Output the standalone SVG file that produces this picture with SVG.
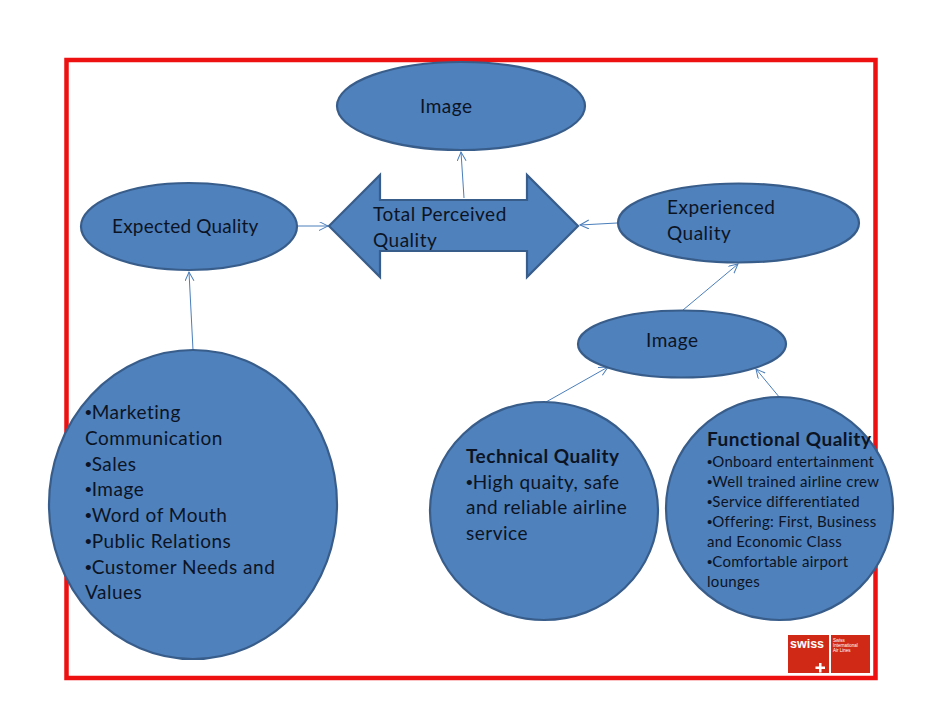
<svg xmlns="http://www.w3.org/2000/svg" width="942" height="728" viewBox="0 0 942 728">
<style>
.s{fill:#4f81bd;stroke:#385d8a;stroke-width:2.2}
.t{font-family:Lato,"Liberation Sans",sans-serif;font-size:19px;fill:#0c1424;letter-spacing:.5px}
.n{letter-spacing:.2px}
.f{font-size:15px;letter-spacing:.3px}
.b{font-weight:700;letter-spacing:.5px}
.u{font-family:"Liberation Sans",sans-serif;letter-spacing:0}
.c{fill:none;stroke:#4a7ebb;stroke-width:1}
.l{font-family:"Liberation Sans",sans-serif;fill:#fff}
</style>
<defs><marker id="a" markerWidth="12" markerHeight="12" refX="9" refY="4.500" orient="auto" markerUnits="userSpaceOnUse"><path d="M0 0L9 4.500L0 9" fill="none" stroke="#4a7ebb" stroke-width="1"/></marker></defs>
<rect width="942" height="728" fill="#fff"/>
<rect id="frame" x="66.500" y="60" width="809" height="618" fill="none" stroke="#ee1111" stroke-width="4.500"/>
<g id="connectors">
<path class="c" marker-end="url(#a)" d="M464 198L461 152"/>
<path class="c" marker-end="url(#a)" d="M298 226H328"/>
<path class="c" marker-end="url(#a)" d="M617 223L580 225"/>
<path class="c" marker-end="url(#a)" d="M193 350L189 272"/>
<path class="c" marker-end="url(#a)" d="M683 310L738 264"/>
<path class="c" marker-end="url(#a)" d="M546 402L608 367"/>
<path class="c" marker-end="url(#a)" d="M780 398L756 369"/>
</g>
<g id="image-top"><ellipse class="s" cx="461" cy="106" rx="124" ry="44"/><text class="t" x="420" y="113">Image</text></g>
<g id="expected"><ellipse class="s" cx="189" cy="226.500" rx="108" ry="43.500"/><text class="t n" x="112" y="233">Expected Quality</text></g>
<g id="total"><path class="s" d="M329 226L380 175V200H527V175L578 226L527 277V251H380V277Z"/><text class="t" x="373" y="221">Total Perceived</text><text class="t" x="373" y="247">Quality</text></g>
<g id="experienced"><ellipse class="s" cx="738.500" cy="223" rx="120.500" ry="39.500"/><text class="t" x="667" y="214">Experienced</text><text class="t" x="667" y="240">Quality</text></g>
<g id="image-right"><ellipse class="s" cx="682" cy="344" rx="104" ry="33.500"/><text class="t" x="646" y="347">Image</text></g>
<g id="marketing"><ellipse class="s" cx="193" cy="504.500" rx="144" ry="154.500"/>
<text class="t" x="85" y="419"><tspan class="u">•</tspan>Marketing</text><text class="t" x="85" y="445">Communication</text><text class="t" x="85" y="471"><tspan class="u">•</tspan>Sales</text><text class="t" x="85" y="496"><tspan class="u">•</tspan>Image</text><text class="t" x="85" y="522"><tspan class="u">•</tspan>Word of Mouth</text><text class="t" x="85" y="548"><tspan class="u">•</tspan>Public Relations</text><text class="t" x="85" y="574"><tspan class="u">•</tspan>Customer Needs and</text><text class="t" x="85" y="599">Values</text></g>
<g id="technical"><ellipse class="s" cx="544" cy="511" rx="114" ry="109"/>
<text class="t b" x="466" y="463">Technical Quality</text><text class="t" x="466" y="489"><tspan class="u">•</tspan>High quaity, safe</text><text class="t" x="466" y="514">and reliable airline</text><text class="t" x="466" y="540">service</text></g>
<g id="functional"><ellipse class="s" cx="779.500" cy="508.500" rx="113.500" ry="111.500"/>
<text class="t b" x="707" y="446">Functional Quality</text>
<text class="t f" x="707" y="467"><tspan class="u">•</tspan>Onboard entertainment</text><text class="t f" x="707" y="487"><tspan class="u">•</tspan>Well trained airline crew</text><text class="t f" x="707" y="507"><tspan class="u">•</tspan>Service differentiated</text><text class="t f" x="707" y="527"><tspan class="u">•</tspan>Offering: First, Business</text><text class="t f" x="707" y="547">and Economic Class</text><text class="t f" x="707" y="567"><tspan class="u">•</tspan>Comfortable airport</text><text class="t f" x="707" y="587">lounges</text></g>
<g id="logo"><rect x="788" y="635" width="41" height="38" fill="#d02a16"/><rect x="831" y="635" width="39" height="38" fill="#d02a16"/>
<text class="l" x="790" y="648" font-size="12.500" font-weight="700">swiss</text>
<path d="M819 663h2.500v3.500h3.500v2.500h-3.500v3.500h-2.500v-3.500h-3.500v-2.500h3.500z" fill="#fff"/>
<text class="l" x="833" y="642" font-size="4.500">Swiss</text><text class="l" x="833" y="647" font-size="4.500">International</text><text class="l" x="833" y="652" font-size="4.500">Air Lines</text></g>
</svg>
